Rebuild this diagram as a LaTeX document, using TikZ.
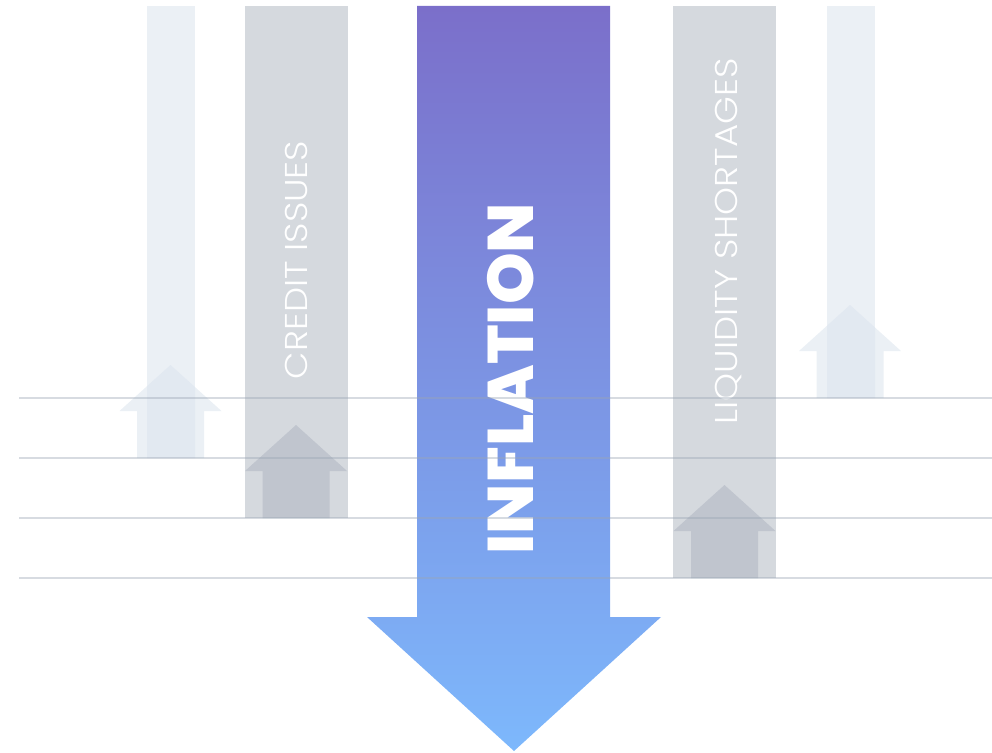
\documentclass[tikz,border=0pt]{standalone}
\usepackage{fontspec}
\newfontfamily\thinfont[FakeStretch=1.13]{Poppins Light}
\newfontfamily\heavyfont[FakeStretch=1.02]{Poppins ExtraBold}

\definecolor{palebar}{HTML}{EBF0F5}
\definecolor{palearrow}{HTML}{E2E9F1}
\definecolor{greybar}{HTML}{D5D9DE}
\definecolor{greyarrow}{HTML}{C0C5CE}
\definecolor{inftop}{HTML}{7B6FCA}
\definecolor{infbottom}{HTML}{7DB8FC}
\definecolor{gridrule}{HTML}{9AA5B4}

\tikzstyle{pale column}=[fill=palebar]
\tikzstyle{grey column}=[fill=greybar]
\tikzstyle{side label}=[rotate=90,anchor=base,inner sep=0pt,text=white,font=\thinfont\fontsize{31.5}{34}\selectfont]
\tikzstyle{main label}=[rotate=90,anchor=base,inner sep=0pt,text=white,font=\heavyfont\fontsize{64.5}{70}\selectfont]
\tikzstyle{grid line}=[draw=gridrule,opacity=0.4,line width=1.5pt]

% up arrow standing on (#1,#2)
\newcommand{\uparrowpath}[2]{({#1-51},{#2-47}) -- ({#1},{#2-93}) -- ({#1+51},{#2-47}) -- ({#1+33.5},{#2-47}) -- ({#1+33.5},{#2}) -- ({#1-33.5},{#2}) -- ({#1-33.5},{#2-47}) -- cycle}

\begin{document}
\begin{tikzpicture}[x=1pt,y=-1pt]
    \useasboundingbox (0,0) rectangle (992,752);
    %Columns
    \foreach \l/\r/\bot/\kind in {147/195/458/pale, 827/875/398/pale,
                                  245/348/518/grey, 673/776/578/grey}
    \fill[\kind\space column] (\l,6) rectangle (\r,\bot);
    %Pale arrows, darker where they cross their column
    \foreach \cx/\bot/\l/\r in {170.5/458/147/195, 850/398/827/875}{
        \fill[palebar] \uparrowpath{\cx}{\bot};
        \begin{scope}
            \clip (\l,6) rectangle (\r,\bot);
            \fill[palearrow] \uparrowpath{\cx}{\bot};
        \end{scope}
    }
    %Grey arrows
    \foreach \cx/\bot in {296/518, 724.5/578}
    \fill[greyarrow] \uparrowpath{\cx}{\bot};
    %Main arrow
    \shade[top color=inftop,bottom color=infbottom]
        (417,6) -- (610,6) -- (610,617) -- (661,617) -- (514,751)
        -- (367,617) -- (417,617) -- cycle;
    %Labels
    \node[side label] (credit) at (307,260) {CREDIT ISSUES};
    \node[side label] (liquidity) at (737,241.5) {LIQUIDITY SHORTAGES};
    \node[main label] (inflation) at (533,378.5) {INFLATION};
    %Grid lines
    \foreach \y in {398,458,518,578}
    \draw[grid line] (19,\y) -- (992,\y);
\end{tikzpicture}
\end{document}
